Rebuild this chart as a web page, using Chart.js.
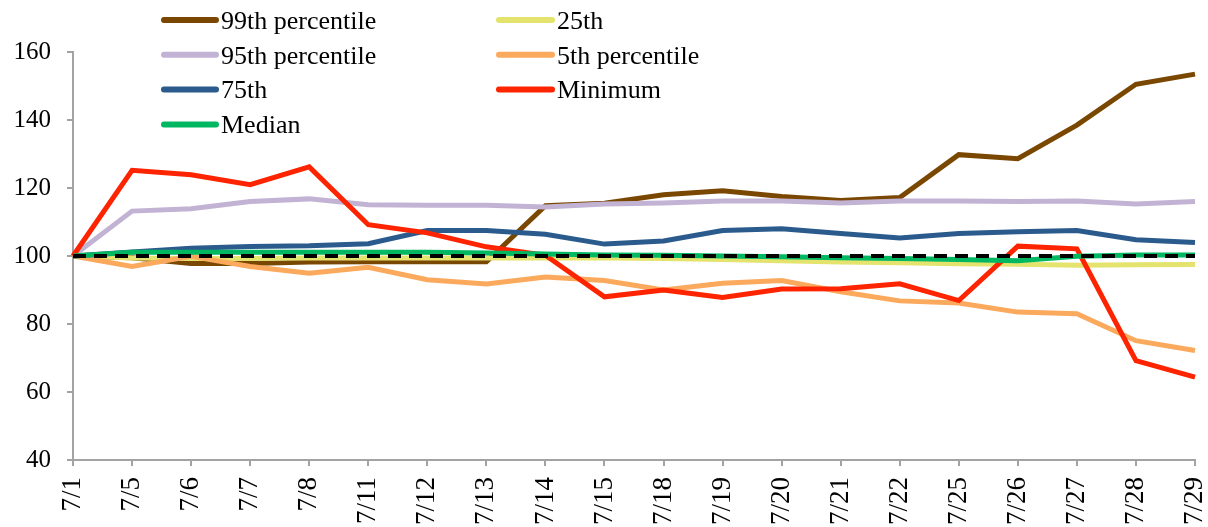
<!DOCTYPE html>
<html>
<head>
<meta charset="utf-8">
<script src="https://cdn.jsdelivr.net/npm/chart.js@4"></script>
<style>
  html, body { margin: 0; padding: 0; background: #fff; overflow: hidden; }
  #wrap { position: relative; width: 1208px; height: 527px; }
</style>
</head>
<body>
<div id="wrap"><canvas id="pctChart"></canvas></div>
<script>
// Category labels (trading days)
const days = ['7/1', '7/5', '7/6', '7/7', '7/8', '7/11', '7/12', '7/13', '7/14', '7/15',
              '7/18', '7/19', '7/20', '7/21', '7/22', '7/25', '7/26', '7/27', '7/28', '7/29'];

// Series values, indexed to 100 on 7/1
const p99 = [100, 99.5, 97.8, 97.8, 98.2, 98.3, 98.3, 98.3, 114.8, 115.5, 118, 119.2, 117.5, 116.3, 117.2, 129.8, 128.6, 138.5, 150.5, 153.5];
const p25 = [100, 99.4, 99.3, 99.3, 99.4, 99.4, 99.4, 99.4, 99.4, 99.4, 99.3, 99, 98.6, 98.2, 98, 97.7, 97.6, 97.3, 97.4, 97.5];
const p95 = [100, 113.2, 113.9, 116, 116.8, 115.1, 114.9, 114.9, 114.4, 115.3, 115.6, 116.2, 116.2, 115.6, 116.2, 116.2, 116, 116.2, 115.3, 116];
const p5 = [100, 96.9, 99.9, 96.9, 94.9, 96.7, 93, 91.8, 93.8, 92.8, 90, 92, 92.8, 89.5, 86.8, 86.2, 83.5, 83, 75.1, 72.2];
const p75 = [100, 101.2, 102.3, 102.8, 103, 103.6, 107.5, 107.5, 106.4, 103.5, 104.4, 107.5, 108, 106.6, 105.3, 106.6, 107.1, 107.5, 104.8, 104];
const minimum = [100, 125.2, 123.9, 121, 126.2, 109.2, 106.8, 102.7, 100.2, 88, 90, 87.8, 90.3, 90.4, 91.8, 86.9, 102.9, 102.1, 69.2, 64.4];
const median = [100, 101.1, 101.1, 101.1, 101.1, 101.1, 101.1, 100.9, 100.6, 100.3, 100.2, 100, 99.8, 99.5, 99.3, 99, 98.6, 99.9, 100.3, 100.3];
const baseline = [100, 100, 100, 100, 100, 100, 100, 100, 100, 100, 100, 100, 100, 100, 100, 100, 100, 100, 100, 100];

// Y axis ticks
const yMin = 40, yMax = 160, yStep = 20;

// Legend order is row-major over two columns, like the source workbook
const series = [
    { label: '99th percentile', data: p99, color: '#7a4700' },
    { label: '25th', data: p25, color: '#e3e36e' },
    { label: '95th percentile', data: p95, color: '#c2b3d5' },
    { label: '5th percentile', data: p5, color: '#fba95c' },
    { label: '75th', data: p75, color: '#2b5b8d' },
    { label: 'Minimum', data: minimum, color: '#ff2400' },
    { label: 'Median', data: median, color: '#00b862' }
];

const FONT = '"Liberation Serif", "DejaVu Serif", serif';
const AXIS_GREY = '#a3a3a3';

const datasets = series.map((s, i) => ({
    label: s.label,
    data: s.data,
    borderColor: s.color,
    backgroundColor: s.color,
    borderWidth: 5,
    pointRadius: 0,
    tension: 0,
    fill: false,
    order: series.length - i + 1
}));

datasets.push({
    label: 'base',
    data: baseline,
    borderColor: '#000',
    borderWidth: 4,
    borderDash: [13, 8],
    pointRadius: 0,
    fill: false,
    order: 0
});

// Two-column legend drawn over the plot, like the original
const overlayLegend = {
    id: 'overlayLegend',
    afterDraw(chart) {
        const ctx = chart.ctx;
        const cols = [{ x1: 164, x2: 216, tx: 221 }, { x1: 499, x2: 552, tx: 557 }];
        ctx.save();
        ctx.font = '26px ' + FONT;
        ctx.textBaseline = 'middle';
        ctx.fillStyle = '#000';
        ctx.lineCap = 'round';
        ctx.lineWidth = 6;
        series.forEach((s, i) => {
            const c = cols[i % 2];
            const y = 20 + Math.floor(i / 2) * 34.8;
            ctx.strokeStyle = s.color;
            ctx.beginPath();
            ctx.moveTo(c.x1, y);
            ctx.lineTo(c.x2, y);
            ctx.stroke();
            ctx.fillText(s.label, c.tx, y + 2);
        });
        ctx.restore();
    }
};

const chart = new Chart(document.getElementById('pctChart').getContext('2d'), {
    type: 'line',
    data: {
        labels: days,
        datasets: datasets
    },
    plugins: [overlayLegend],
    options: {
        responsive: true,
        maintainAspectRatio: false,
        animation: false,
        layout: {
            padding: { top: 52, right: 13, bottom: 0, left: 0 }
        },
        plugins: {
            legend: { display: false },
            tooltip: { enabled: false }
        },
        scales: {
            x: {
                offset: false,
                grid: {
                    display: true,
                    drawOnChartArea: false,
                    drawTicks: true,
                    tickLength: 6,
                    color: AXIS_GREY,
                    lineWidth: 2
                },
                border: { color: AXIS_GREY, width: 2 },
                ticks: {
                    autoSkip: false,
                    maxRotation: 90,
                    minRotation: 90,
                    padding: 11,
                    color: '#000',
                    font: { family: FONT, size: 27 }
                },
                afterFit: function(scale) {
                    scale.height = 67;
                    scale.paddingLeft = 0;
                    scale.paddingRight = 0;
                }
            },
            y: {
                min: yMin,
                max: yMax,
                grid: {
                    display: true,
                    drawOnChartArea: false,
                    drawTicks: true,
                    tickLength: 6,
                    color: AXIS_GREY,
                    lineWidth: 2
                },
                border: { color: AXIS_GREY, width: 2 },
                ticks: {
                    stepSize: yStep,
                    padding: 16,
                    color: '#000',
                    font: { family: FONT, size: 25 }
                },
                afterFit: function(scale) {
                    scale.width = 73;
                }
            }
        }
    }
});
</script>
</body>
</html>
